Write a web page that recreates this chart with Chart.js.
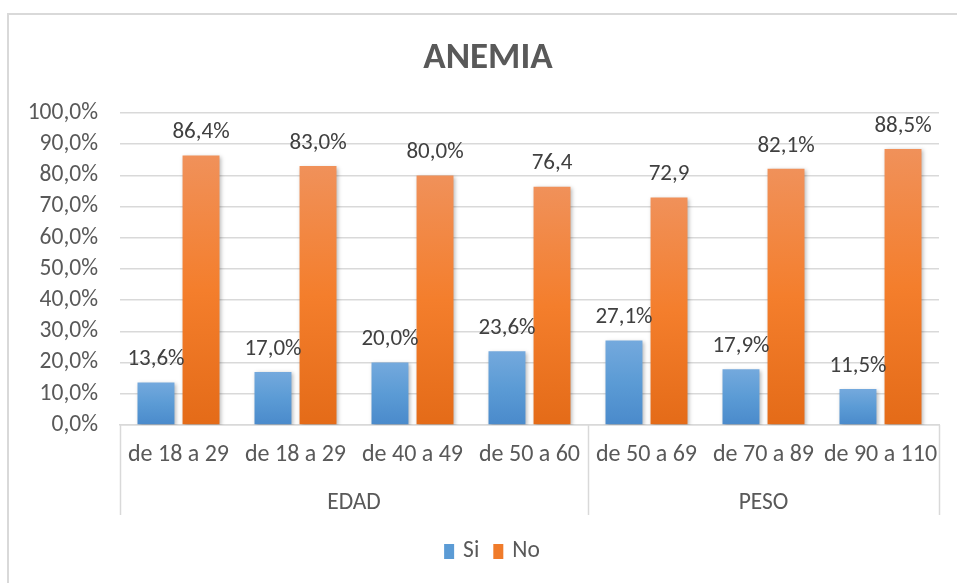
<!DOCTYPE html>
<html lang="es">
<head>
  <meta charset="UTF-8">
  <title>Anemia</title>
  <script src="https://cdn.jsdelivr.net/npm/chart.js"></script>
  <style>
    html, body {
      margin: 0;
      padding: 0;
      background: #fff;
    }
    #wrap {
      position: relative;
      width: 957px;
      height: 583px;
      overflow: hidden;
    }
    #frame {
      position: absolute;
      left: 7px;
      top: 13px;
      width: 960px;
      height: 600px;
      border-left: 2px solid #d9d9d9;
      border-top: 2px solid #d9d9d9;
    }
    canvas {
      position: absolute;
      left: 0;
      top: 0;
    }
  </style>
</head>
<body>
  <div id="wrap">
    <div id="frame"></div>
    <canvas id="barChart" width="957" height="583"></canvas>
  </div>

  <script>
    const title = 'ANEMIA';
    const categories = ['de 18 a 29', 'de 18 a 29', 'de 40 a 49', 'de 50 a 60', 'de 50 a 69', 'de 70 a 89', 'de 90 a 110'];
    const groups = ['EDAD', 'PESO'];
    const groupSizes = [4, 3];
    const siValues = [13.6, 17.0, 20.0, 23.6, 27.1, 17.9, 11.5];
    const noValues = [86.4, 83.0, 80.0, 76.4, 72.9, 82.1, 88.5];
    const siLabels = ['13,6%', '17,0%', '20,0%', '23,6%', '27,1%', '17,9%', '11,5%'];
    const noLabels = ['86,4%', '83,0%', '80,0%', '76,4', '72,9', '82,1%', '88,5%'];

    const FONT = 'Carlito, Calibri, "Liberation Sans Narrow", "DejaVu Sans Condensed", sans-serif';
    const GREY = '#595959';
    const LINE = '#d9d9d9';
    const SWATCH = ['#5b9bd5', '#f07b2a'];

    // per bar vertical gradient, lighter at the top like Excel
    function barFill(top, mid, bottom) {
      return ctx => {
        const chart = ctx.chart;
        if (!chart.chartArea || ctx.type !== 'data') return mid;
        const y = chart.scales.y;
        const yTop = y.getPixelForValue(ctx.raw);
        const yBot = y.getPixelForValue(0);
        if (!isFinite(yTop) || yBot - yTop < 1) return mid;
        const g = chart.ctx.createLinearGradient(0, yTop, 0, yBot);
        g.addColorStop(0, top);
        g.addColorStop(0.5, mid);
        g.addColorStop(1, bottom);
        return g;
      };
    }

    const extras = {
      id: 'extras',
      beforeDatasetsDraw(chart) {
        const c = chart.ctx;
        c.save();
        c.shadowColor = 'rgba(0,0,0,0.28)';
        c.shadowBlur = 4;
        c.shadowOffsetX = 1.5;
        c.shadowOffsetY = 1.5;
      },
      afterDatasetsDraw(chart) {
        const c = chart.ctx;
        c.restore();
        c.save();
        c.font = '23px ' + FONT;
        c.fillStyle = '#404040';
        c.textAlign = 'center';
        c.textBaseline = 'middle';
        const texts = [siLabels, noLabels];
        chart.data.datasets.forEach((ds, i) => {
          chart.getDatasetMeta(i).data.forEach((bar, j) => {
            c.fillText(texts[i][j], bar.x, bar.y - 23);
          });
        });
        c.restore();
      },
      afterDraw(chart) {
        const c = chart.ctx;
        const area = chart.chartArea;
        const step = (area.right - area.left) / categories.length;
        const bottom = area.bottom + 90;
        c.save();

        // title
        c.font = 'bold 37px ' + FONT;
        c.fillStyle = GREY;
        c.textAlign = 'center';
        c.textBaseline = 'alphabetic';
        c.fillText(title, 488, 68);

        // group row under the category labels
        c.strokeStyle = LINE;
        c.lineWidth = 1.5;
        c.font = '23.5px ' + FONT;
        c.textBaseline = 'middle';
        let start = 0;
        const edges = [area.left];
        groups.forEach((g, i) => {
          const end = start + groupSizes[i];
          const x0 = area.left + start * step;
          const x1 = area.left + end * step;
          edges.push(x1);
          c.fillText(g, (x0 + x1) / 2, area.bottom + 78);
          start = end;
        });
        edges.forEach(px => {
          c.beginPath();
          c.moveTo(Math.round(px) + 0.5, area.bottom);
          c.lineTo(Math.round(px) + 0.5, bottom);
          c.stroke();
        });

        // legend
        c.textAlign = 'left';
        const names = chart.data.datasets.map(ds => ds.label);
        const widths = names.map(n => c.measureText(n).width);
        const total = widths.reduce((a, w) => a + 10 + 9 + w, 0) + 14 * (names.length - 1);
        let lx = 492 - total / 2;
        names.forEach((n, i) => {
          c.fillStyle = SWATCH[i];
          c.fillRect(lx, 544, 10, 15);
          c.fillStyle = GREY;
          c.fillText(n, lx + 19, 551.5);
          lx += 19 + widths[i] + 14;
        });
        c.restore();
      }
    };

    new Chart(document.getElementById('barChart').getContext('2d'), {
      type: 'bar',
      data: {
        labels: categories,
        datasets: [{
          label: 'Si',
          data: siValues,
          backgroundColor: barFill('#74a9dd', '#5b9bd5', '#4a8acb'),
          categoryPercentage: 0.77,
          barPercentage: 0.82
        }, {
          label: 'No',
          data: noValues,
          backgroundColor: barFill('#f0915a', '#f47e2c', '#e46b18'),
          categoryPercentage: 0.77,
          barPercentage: 0.82
        }]
      },
      options: {
        responsive: false,
        animation: false,
        layout: {
          padding: { left: 0, right: 18, top: 113, bottom: 68 }
        },
        plugins: {
          title: { display: false },
          legend: { display: false },
          tooltip: { enabled: false }
        },
        scales: {
          x: {
            afterFit(scale) { scale.height = 90; },
            grid: { display: false },
            border: { display: true, color: LINE, width: 1.5 },
            ticks: {
              color: GREY,
              font: { family: FONT, size: 24 },
              padding: 8,
              maxRotation: 0,
              autoSkip: false
            }
          },
          y: {
            min: 0,
            max: 100,
            afterFit(scale) { scale.width = 120; },
            border: { display: false },
            grid: { color: LINE, lineWidth: 1.5, drawTicks: false },
            ticks: {
              stepSize: 10,
              autoSkip: false,
              padding: 22,
              color: GREY,
              font: { family: FONT, size: 23.5 },
              callback: v => v.toFixed(1).replace('.', ',') + '%'
            }
          }
        }
      },
      plugins: [extras]
    });
  </script>
</body>
</html>
